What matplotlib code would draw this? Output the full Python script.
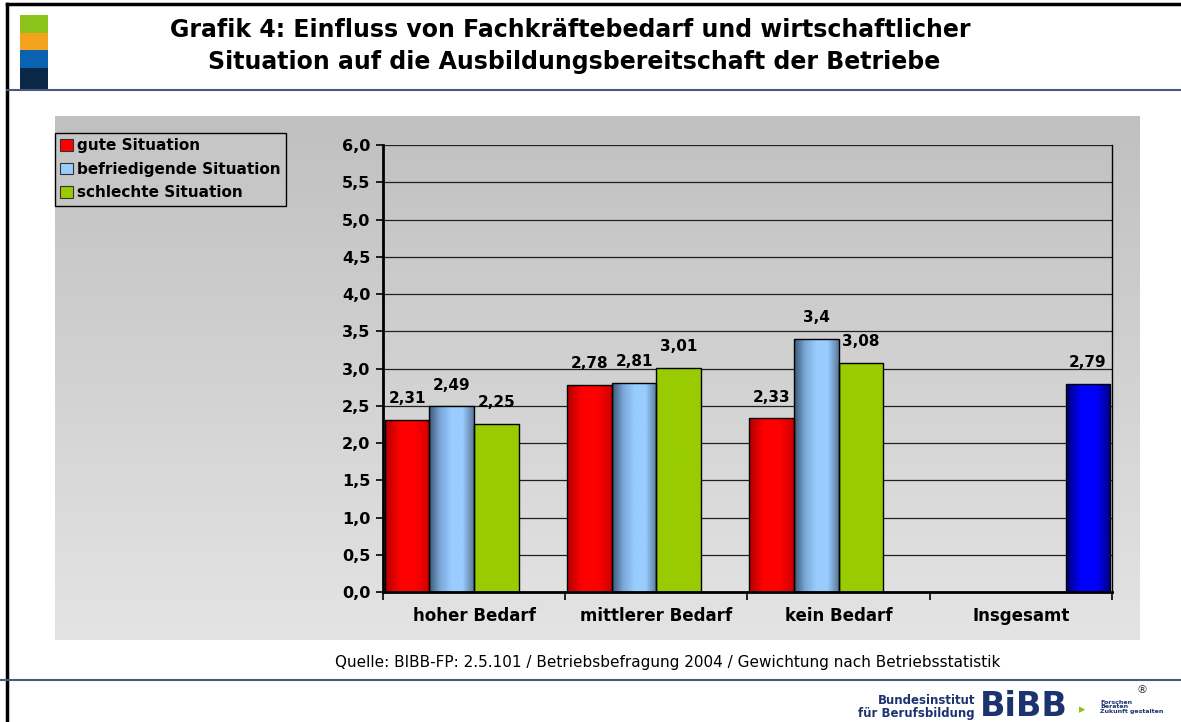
import matplotlib.pyplot as plt
import numpy as np
from matplotlib.colors import LinearSegmentedColormap
from matplotlib.patches import Patch, Rectangle

categories = ["hoher Bedarf", "mittlerer Bedarf", "kein Bedarf", "Insgesamt"]
series_names = ["gute Situation", "befriedigende Situation", "schlechte Situation"]
gute = [2.31, 2.78, 2.33]
befriedigend = [2.49, 2.81, 3.40]
schlecht = [2.25, 3.01, 3.08]
insgesamt = [2.79]
value_labels = [["2,31", "2,78", "2,33"], ["2,49", "2,81", "3,4"], ["2,25", "3,01", "3,08"], ["2,79"]]
yticks = [0, 0.5, 1, 1.5, 2, 2.5, 3, 3.5, 4, 4.5, 5, 5.5, 6]

W, H = 1181, 722
fig = plt.figure(figsize=(W / 100, H / 100), dpi=100)
fig.patch.set_facecolor("white")


def fx(px):
    return px / W


def fy(py):
    return 1 - py / H


# frame and header
fig.add_artist(plt.Line2D([fx(7), fx(7)], [0, fy(4)], color="black", lw=2.5))
fig.add_artist(plt.Line2D([fx(7), 1], [fy(4), fy(4)], color="black", lw=2.5))
fig.add_artist(plt.Line2D([fx(7), 1], [fy(90), fy(90)], color="#4a5a7a", lw=1.5))
fig.add_artist(plt.Line2D([0, 1], [fy(680), fy(680)], color="#4a5a7a", lw=1.5))
for (y0, y1), c in zip([(15, 33), (33, 50), (50, 68), (68, 89)],
                       ["#8cc21c", "#f4a21e", "#0b62b0", "#0c2848"]):
    fig.add_artist(Rectangle((fx(20), fy(y1)), fx(28), (y1 - y0) / H,
                             transform=fig.transFigure, color=c, lw=0))

fig.text(fx(570), fy(30), "Grafik 4: Einfluss von Fachkräftebedarf und wirtschaftlicher",
         ha="center", va="center", fontsize=17, fontweight="bold")
fig.text(fx(574), fy(62), "Situation auf die Ausbildungsbereitschaft der Betriebe",
         ha="center", va="center", fontsize=17, fontweight="bold")

# gray panel with vertical gradient
bg = fig.add_axes([fx(55), fy(640), fx(1085), (640 - 116) / H], zorder=0)
grad = np.linspace(0, 1, 256).reshape(-1, 1)
bg.imshow(grad, aspect="auto", extent=[0, 1, 0, 1],
          cmap=LinearSegmentedColormap.from_list("bg", ["#e4e4e4", "#c0c0c0"]), origin="lower")
bg.set_axis_off()

ax = fig.add_axes([fx(383), fy(592), fx(1112 - 383), (592 - 145) / H], zorder=1)
ax.set_facecolor("none")

cmaps = [
    LinearSegmentedColormap.from_list("r", ["#b00000", "#ff0000", "#ff0000", "#d00000"]),
    LinearSegmentedColormap.from_list("b", ["#3a5674", "#7aa8d8", "#99ccff", "#99ccff", "#5a7898"]),
    LinearSegmentedColormap.from_list("g", ["#99cc00", "#99cc00"]),
    LinearSegmentedColormap.from_list("n", ["#000070", "#0000ff", "#0000ff", "#000080"]),
]
solid = ["#ff0000", "#99ccff", "#99cc00", "#0000ff"]

width = 0.245
x = np.arange(3)
series = [gute, befriedigend, schlecht]
hgrad = np.linspace(0, 1, 256).reshape(1, -1)
for k, vals in enumerate(series + [insgesamt]):
    pos = x + (k - 1.5) * width if k < 3 else np.array([3 + 1.5 * width])
    bars = ax.bar(pos, vals, width, color="none", edgecolor="black", lw=1, zorder=3)
    for b, lab in zip(bars, value_labels[k]):
        im = ax.imshow(hgrad, aspect="auto", cmap=cmaps[k], zorder=2,
                       extent=[b.get_x(), b.get_x() + b.get_width(), 0, b.get_height()])
        im.set_clip_path(b)
        ax.annotate(lab, (b.get_x() + b.get_width() / 2, b.get_height()),
                    xytext=(0, 10), textcoords="offset points", ha="center", va="bottom",
                    fontsize=11, fontweight="bold")

ax.set_xlim(-0.5, 3.5)
ax.set_ylim(0, 6)
ax.set_yticks(yticks)
ax.set_yticklabels([f"{v:.1f}".replace(".", ",") for v in yticks], fontsize=11.5, fontweight="bold")
ax.yaxis.grid(True, color="#202020", lw=0.9, zorder=1)
ax.set_axisbelow(True)
ax.set_xticks(np.arange(-0.5, 4, 1))
ax.set_xticklabels([])
ax.set_xticks(np.arange(4), minor=True)
ax.set_xticklabels(categories, minor=True, fontsize=12, fontweight="bold")
ax.tick_params(axis="x", which="minor", length=0, pad=11)
ax.tick_params(axis="x", which="major", length=6, width=1.2)
ax.tick_params(axis="y", length=5, width=1.2, pad=4)
ax.spines["top"].set_visible(False)
ax.spines["left"].set_linewidth(2)
ax.spines["bottom"].set_linewidth(2)
ax.spines["right"].set_linewidth(1)

handles = [Patch(facecolor=c, edgecolor="#333333", lw=0.8) for c in solid[:3]]
fig.legend(handles, series_names, loc="upper left", bbox_to_anchor=(fx(55), fy(133)),
           fancybox=False, edgecolor="black", facecolor="#c6c6c6", framealpha=1,
           handlelength=0.8, handleheight=0.8, handletextpad=0.3, borderpad=0.35,
           labelspacing=0.55, borderaxespad=0, prop=dict(size=11, weight="bold"))

fig.text(fx(668), fy(662), "Quelle: BIBB-FP: 2.5.101 / Betriebsbefragung 2004 / Gewichtung nach Betriebsstatistik",
         ha="center", va="center", fontsize=11)

# logo
navy = "#1c3370"
fig.text(fx(975), fy(707), "Bundesinstitut\nfür Berufsbildung", ha="right", va="center",
         fontsize=8.5, fontweight="bold", color=navy, linespacing=1.0)
fig.text(fx(980), fy(707), "BiBB", ha="left", va="center", fontsize=24,
         fontweight="heavy", color=navy)
fig.text(fx(1082), fy(710), "▸", ha="center", va="center", fontsize=9, color="#8cc21c")
fig.text(fx(1100), fy(707), "Forschen\nBeraten\nZukunft gestalten", ha="left", va="center",
         fontsize=4.5, fontweight="bold", color=navy, linespacing=1.0)
fig.text(fx(1142), fy(690), "®", ha="center", va="center", fontsize=8, color="#333333")

fig.savefig("out.png", dpi=100)
